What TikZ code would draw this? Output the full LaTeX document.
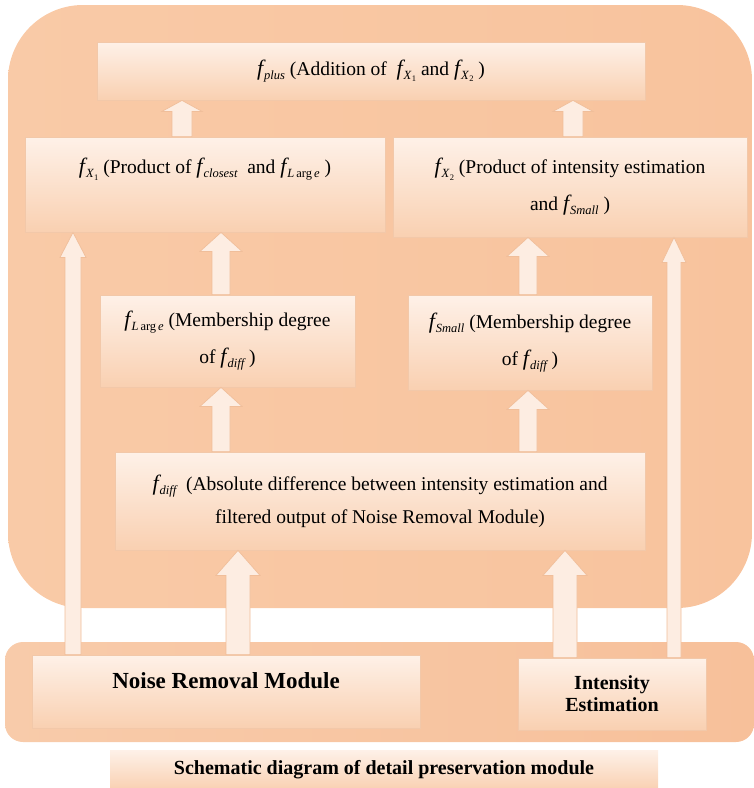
\documentclass[tikz,border=0pt]{standalone}
\usepackage{fontspec}
\setmainfont{Liberation Serif}
\usetikzlibrary{calc}
\definecolor{outL}{HTML}{F9CAA7}
\definecolor{outM}{HTML}{FDE5D4}
\definecolor{outR}{HTML}{F8C39D}
\definecolor{bandL}{HTML}{F8CBAA}
\definecolor{bandM}{HTML}{FDE5D4}
\definecolor{bandR}{HTML}{F7C09A}
\definecolor{boxT}{HTML}{FEF1E8}
\definecolor{boxB}{HTML}{F9D0B1}
\definecolor{boxline}{HTML}{F2C8A9}
\definecolor{arrfill}{HTML}{FDEDE2}
\definecolor{arrline}{HTML}{F0BE9A}
\newcommand{\ff}{{\fontsize{22}{22}\selectfont\itshape f}}
\newcommand{\fsub}[1]{\ff\kern1pt\raisebox{-4pt}{\fontsize{12.5}{12.5}\selectfont\itshape #1}}
\newcommand{\xsub}[1]{X\kern0.5pt\raisebox{-2.5pt}{\fontsize{8.5}{8.5}\selectfont\upshape #1}}
\newcommand{\larg}{L\kern2pt\upshape arg\kern2pt\itshape e}
\begin{document}
\begin{tikzpicture}[x=1pt,y=-1pt,
  box/.style={draw=boxline, line width=0.8pt, top color=boxT, bottom color=boxB,
    align=center, inner sep=0pt, font=\fontsize{19.5}{37}\selectfont},
  bbox/.style={box, font=\fontsize{20}{22}\selectfont\bfseries},
  barrow/.style n args={3}{draw=arrline, fill=arrfill, line width=0.7pt,
    to path={let \p1=(\tikztostart), \p2=(\tikztotarget) in
      (\x1-#1pt,\y1) -- (\x1-#1pt,\y2-#3pt) -- (\x1-#2pt,\y2-#3pt) -- (\x1,\y2)
      -- (\x1+#2pt,\y2-#3pt) -- (\x1+#1pt,\y2-#3pt) -- (\x1+#1pt,\y1) -- cycle}}]
\useasboundingbox (0,0) rectangle (754,788);
% backgrounds
\path[left color=outL, middle color=outM, right color=outR, rounded corners=75pt]
  (8,5) rectangle (752,608);
\path[left color=bandL, middle color=bandM, right color=bandR, rounded corners=18pt]
  (5,642) rectangle (754,742);
% boxes
\node[box, minimum width=548pt, minimum height=58pt] (fplus) at (371,71)
  {\fsub{plus} (Addition of \ \fsub{\xsub{1}} and \fsub{\xsub{2}} )};
\node[box, minimum width=360pt, minimum height=95pt] (fx1) at (205,184.5)
  {\fsub{\xsub{1}} (Product of \fsub{closest} \ and \fsub{\larg} )\\ \mbox{}};
\node[box, minimum width=354pt, minimum height=100pt] (fx2) at (570,187)
  {\fsub{\xsub{2}} (Product of intensity estimation\\ and \fsub{Small} )};
\node[box, minimum width=255pt, minimum height=92pt] (flarge) at (227.5,341)
  {\fsub{\larg} (Membership degree\\ of \fsub{diff} )};
\node[box, minimum width=244pt, minimum height=95pt] (fsmall) at (530,342.5)
  {\fsub{Small} (Membership degree\\ of \fsub{diff} )};
\node[box, minimum width=530pt, minimum height=98pt, font=\fontsize{19.5}{33}\selectfont] (fdiff) at (380,501)
  {\fsub{diff} \ (Absolute difference between intensity estimation and\\ filtered output of Noise Removal Module)};
\node[bbox, minimum width=388pt, minimum height=73pt, font=\fontsize{23}{22}\selectfont\bfseries] (nrm) at (226,691.5)
  {Noise Removal Module\\ \mbox{}};
\node[bbox, minimum width=188pt, minimum height=72pt] (ie) at (612,694)
  {Intensity\\ Estimation};
\node[bbox, draw=none, minimum width=548pt, minimum height=40pt] (cap) at (384,770)
  {Schematic diagram of detail preservation module};
% arrow axes
\coordinate (xa) at (182,0);
\coordinate (xb) at (573,0);
\coordinate (xc) at (221,0);
\coordinate (xd) at (528,0);
\coordinate (xe) at (238,0);
\coordinate (xf) at (565,0);
\coordinate (xg) at (73,0);
\coordinate (xh) at (674,0);
% arrows
\draw[barrow={10}{20}{11}] (fx1.north -| xa) to (fplus.south -| xa);
\draw[barrow={10}{20}{11}] (fx2.north -| xb) to (fplus.south -| xb);
\draw[barrow={9}{21}{19}] (flarge.north -| xc) to (fx1.south -| xc);
\draw[barrow={9}{21}{19}] (fsmall.north -| xd) to (fx2.south -| xd);
\draw[barrow={9}{21}{19}] (fdiff.north -| xc) to (flarge.south -| xc);
\draw[barrow={9}{21}{19}] (fdiff.north -| xd) to (fsmall.south -| xd);
\draw[barrow={12}{22}{25}] (nrm.north -| xe) to (fdiff.south -| xe);
\draw[barrow={12}{22}{25}] (ie.north -| xf) to (fdiff.south -| xf);
\draw[barrow={8}{13}{25}] (nrm.north -| xg) to (fx1.south -| xg);
\draw[barrow={7}{12}{25}] (ie.north -| xh) to (fx2.south -| xh);
\end{tikzpicture}
\end{document}
